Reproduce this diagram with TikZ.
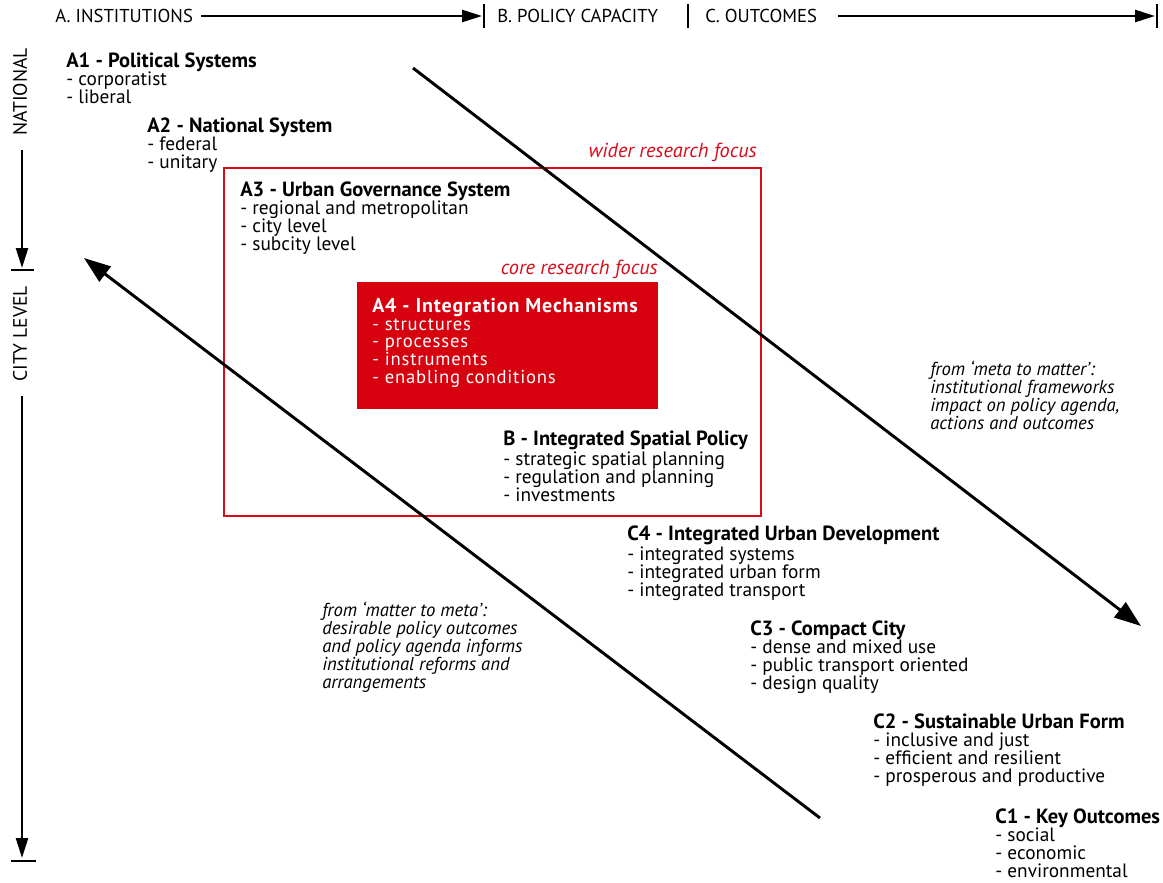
\documentclass[tikz,border=0pt]{standalone}
\usepackage{fontspec}
\setmainfont{PT Sans}
\newfontfamily\wfont[LetterSpace=4.3]{PT Sans}
\usetikzlibrary{arrows.meta}
\definecolor{redbox}{RGB}{215,0,15}
\definecolor{redline}{RGB}{220,10,25}
\newcommand{\ttl}[1]{{\fontsize{15.4}{13.5}\selectfont\bfseries #1}}
\newcommand{\ttlw}[1]{{\fontsize{15}{13.3}\selectfont\bfseries #1}}
\begin{document}
\begin{tikzpicture}[x=0.75pt,y=-0.75pt,
  blk/.style={anchor=north west,inner sep=0pt,align=left,font=\fontsize{14.5}{13.5}\selectfont},
  wblk/.style={anchor=north west,inner sep=0pt,align=left,text=white,font=\wfont\fontsize{14}{13.3}\selectfont},
  hdr/.style={anchor=west,inner sep=0pt,font=\fontsize{14}{13.5}\selectfont},
  note/.style={anchor=north west,inner sep=0pt,align=left,font=\fontsize{14}{13.5}\selectfont\itshape},
  rednote/.style={anchor=east,inner sep=0pt,text=redline,font=\fontsize{15.2}{13.5}\selectfont\itshape},
  axis/.style={line width=1.9pt,-{Triangle[length=15pt,width=9pt]}},
  tick/.style={line width=1.9pt},
  diag/.style={line width=2.2pt,-{Triangle[length=20pt,width=14pt]}}]
\useasboundingbox (0,0) rectangle (1163,882);
\fill[white] (0,0) rectangle (1163,882);
% header
\node[hdr] (hA) at (55,16) {A. INSTITUTIONS};
\node[hdr] (hB) at (497,16) {B. POLICY CAPACITY};
\node[hdr] (hC) at (705,16) {C. OUTCOMES};
\coordinate (tA1) at (484,4); \coordinate (tA2) at (484,28);
\coordinate (tB1) at (688,4); \coordinate (tB2) at (688,28);
\coordinate (tC1) at (1157,4); \coordinate (tC2) at (1157,28);
\coordinate (aAs) at (201,16); \coordinate (aAe) at (482,16);
\coordinate (aCs) at (838,16); \coordinate (aCe) at (1155,16);
\draw[tick] (tA1) -- (tA2);
\draw[tick] (tB1) -- (tB2);
\draw[tick] (tC1) -- (tC2);
\draw[axis] (aAs) -- (aAe);
\draw[axis] (aCs) -- (aCe);
% left axis
\node[rotate=90,inner sep=0pt,font=\fontsize{14.6}{13.5}\selectfont] (nat) at (20,92) {NATIONAL};
\node[rotate=90,inner sep=0pt,font=\fontsize{14.6}{13.5}\selectfont] (city) at (20,334) {CITY LEVEL};
\coordinate (v1s) at (22,150); \coordinate (v1e) at (22,268);
\coordinate (v2s) at (22,396); \coordinate (v2e) at (22,858);
\coordinate (k1a) at (11,270); \coordinate (k1b) at (34,270);
\coordinate (k2a) at (11,861); \coordinate (k2b) at (36,861);
\draw[axis] (v1s) -- (v1e);
\draw[axis] (v2s) -- (v2e);
\draw[tick] (k1a) -- (k1b);
\draw[tick] (k2a) -- (k2b);
% red boxes
\draw[redline,line width=1.9pt] (224,168) rectangle (761,516);
\fill[redbox] (357,282) rectangle (658,409);
\node[rednote] (wider) at (757,152) {wider research focus};
\node[rednote] (core) at (658,269) {core research focus};
% diagonals
\coordinate (d1s) at (413,68); \coordinate (d1e) at (1141,626);
\coordinate (d2s) at (820,818); \coordinate (d2e) at (84,258);
\draw[diag] (d1s) -- (d1e);
\draw[diag] (d2s) -- (d2e);
% blocks
\node[blk] (A1) at (66,53) {\ttl{A1 - Political Systems}\\- corporatist\\- liberal};
\node[blk] (A2) at (147,118) {\ttl{A2 - National System}\\- federal\\- unitary};
\node[blk] (A3) at (240,182) {\ttl{A3 - Urban Governance System}\\- regional and metropolitan\\- city level\\- subcity level};
\node[wblk] (A4) at (372,298) {\ttlw{A4 - Integration Mechanisms}\\- structures\\- processes\\- instruments\\- enabling conditions};
\node[blk] (B) at (503,431) {\ttl{B - Integrated Spatial Policy}\\- strategic spatial planning\\- regulation and planning\\- investments};
\node[blk] (C4) at (627,526) {\ttl{C4 - Integrated Urban Development}\\- integrated systems\\- integrated urban form\\- integrated transport};
\node[blk] (C3) at (750,621) {\ttl{C3 - Compact City}\\- dense and mixed use\\- public transport oriented\\- design quality};
\node[blk] (C2) at (873,714) {\ttl{C2 - Sustainable Urban Form}\\- inclusive and just\\- efficient and resilient\\- prosperous and productive};
\node[blk] (C1) at (995,809) {\ttl{C1 - Key Outcomes}\\- social\\- economic\\- environmental};
\node[note] (m2m) at (930,361) {from ‘meta to matter’:\\institutional frameworks\\impact on policy agenda,\\actions and outcomes};
\node[note] (mt2) at (322,602) {from ‘matter to meta’:\\desirable policy outcomes\\and policy agenda informs\\institutional reforms and\\arrangements};
\end{tikzpicture}
\end{document}
